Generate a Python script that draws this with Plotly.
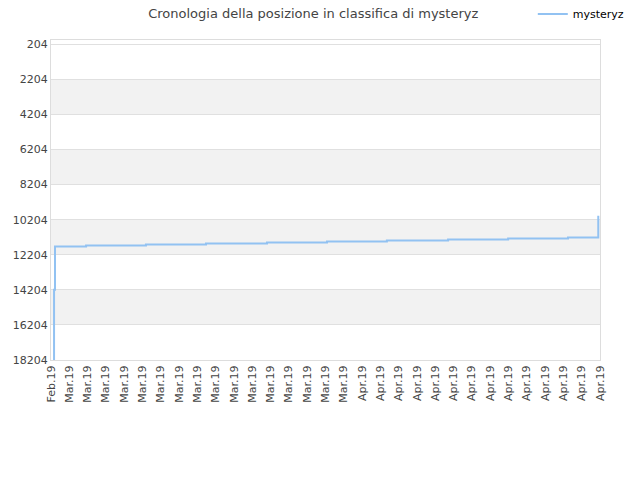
import plotly.graph_objects as go

# Data (rank over time, lower is better)
dates = [
    "2019-02-27 07:00", "2019-02-27 08:00", "2019-02-27 10:30",
    "2019-03-02 20:00", "2019-03-09 09:00", "2019-03-15 22:30",
    "2019-03-22 14:30", "2019-03-29 04:00", "2019-04-04 17:00",
    "2019-04-11 09:30", "2019-04-17 23:00", "2019-04-24 12:00",
    "2019-04-27 19:30",
]
ranks = [18204, 14204, 11738, 11681, 11624, 11567, 11510, 11453, 11396,
         11339, 11282, 11225, 9987]

y_ticks = [204, 2204, 4204, 6204, 8204, 10204, 12204, 14204, 16204, 18204]
x_start = "2019-02-27"
x_end = "2019-04-28"
series_name = "mysteryz"
title = "Cronologia della posizione in classifica di mysteryz"

fig = go.Figure()
fig.add_trace(go.Scatter(
    x=dates, y=ranks, mode="lines", name=series_name,
    line=dict(color="#92c2f2", width=2, shape="hv"),
))

# alternating grey bands
shapes = []
for i in range(1, len(y_ticks) - 1, 2):
    shapes.append(dict(type="rect", xref="paper", yref="y", x0=0, x1=1,
                       y0=y_ticks[i], y1=y_ticks[i + 1],
                       fillcolor="#f2f2f2", line=dict(width=0), layer="below"))

fig.update_layout(
    width=640, height=480,
    margin=dict(l=43, r=48, t=32, b=128, autoexpand=False),
    paper_bgcolor="white", plot_bgcolor="white",
    font=dict(family="DejaVu Sans", size=11, color="#444"),
    title=dict(text=title, x=0.477, xanchor="center", y=0.9885, yanchor="middle",
               font=dict(family="DejaVu Sans", size=13, color="#444")),
    showlegend=True,
    legend=dict(xref="container", yref="container", x=0.820, xanchor="left",
                y=0.9875, yanchor="middle",
                font=dict(family="DejaVu Sans", size=11, color="#000"),
                bgcolor="rgba(0,0,0,0)"),
    shapes=shapes,
    xaxis=dict(type="date", range=[x_start, x_end], tick0=x_start,
               dtick=2 * 86400000, tickformat="%b.%y", tickangle=-90,
               showgrid=False, zeroline=False, showline=True, mirror=True,
               linecolor="#dddddd", linewidth=1, ticks="", automargin=False,
               tickfont=dict(size=11, color="#444")),
    yaxis=dict(range=[18204, -36], tickvals=y_ticks,
               ticktext=[str(v) for v in y_ticks],
               showgrid=True, gridcolor="#e0e0e0", gridwidth=1,
               zeroline=False, showline=True, mirror=True,
               linecolor="#dddddd", linewidth=1, ticks="", automargin=False,
               tickfont=dict(size=11, color="#444")),
)

fig.write_html("out.html")
